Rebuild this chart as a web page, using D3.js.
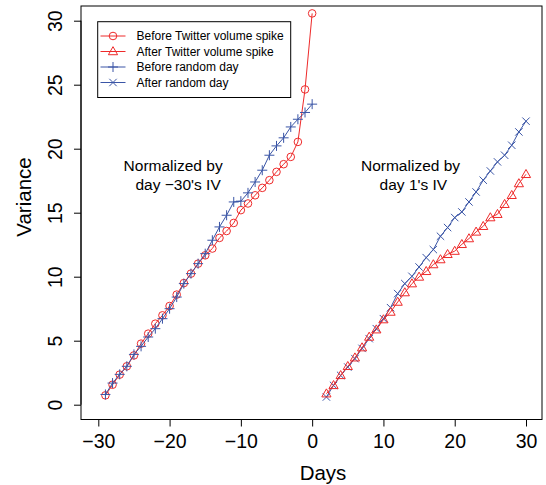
<!DOCTYPE html>
<html>
<head>
<meta charset="utf-8">
<script src="https://cdn.jsdelivr.net/npm/d3@7"></script>
<style>
  html, body { margin: 0; padding: 0; background: #fff; }
  svg { display: block; font-family: "Liberation Sans", Arial, Helvetica, sans-serif; }
</style>
</head>
<body>
<svg id="chart" width="546" height="485"></svg>
<script>
// ---- Data ----
const daysBefore = [-29,-28,-27,-26,-25,-24,-23,-22,-21,-20,-19,-18,-17,-16,-15,-14,-13,-12,-11,-10,-9,-8,-7,-6,-5,-4,-3,-2,-1,0];
const daysAfter = [2,3,4,5,6,7,8,9,10,11,12,13,14,15,16,17,18,19,20,21,22,23,24,25,26,27,28,29,30];

const beforeSpike = [0.73,1.56,2.35,3.0,3.85,4.77,5.55,6.33,6.98,7.71,8.6,9.5,10.24,11.02,11.67,12.2,13.03,13.57,14.2,15.2,15.72,16.36,16.94,17.54,18.19,18.79,19.36,20.53,24.63,30.57];
const beforeRandom = [0.8,1.69,2.37,3.0,3.93,4.56,5.29,5.94,6.72,7.5,8.41,9.46,10.24,11.02,11.8,12.85,13.89,14.8,15.84,15.9,16.55,17.4,18.32,19.49,20.22,20.85,21.7,22.3,22.83,23.48];
const afterSpike = [0.86,1.51,2.29,3.0,3.67,4.46,5.29,5.86,6.65,7.24,8.02,8.76,9.46,9.98,10.42,10.95,11.34,11.75,12.0,12.53,12.98,13.5,13.94,14.62,14.88,15.66,16.36,17.28,18.0];
const afterRandom = [0.6,1.51,2.29,2.94,3.6,4.4,5.16,5.94,6.72,7.58,8.68,9.46,10.03,10.76,11.49,12.12,13.16,13.84,14.62,15.06,15.84,16.62,17.54,18.26,18.97,19.49,20.27,21.31,22.15];

const xTicks = [-30,-20,-10,0,10,20,30];
const yTicks = [0,5,10,15,20,25,30];

const legendLabels = ["Before Twitter volume spike","After Twitter volume spike","Before random day","After random day"];
const annotations = [
  {lines:["Normalized by","day \u221230's IV"], x:-19.5, dx:[0,0.7]},
  {lines:["Normalized by","day 1's IV"], x:13.8, dx:[0,0.4]}
];

// ---- Layout ----
const RED = "#ee2a2a", BLUE = "#3a55a6";
const box = {l:81, r:542, t:6, b:419.5};
const x = d3.scaleLinear().domain([-30,30]).range([98.3,526]);
const y = d3.scaleLinear().domain([0,30]).range([404.7,20.7]);

const svg = d3.select("#chart");

// plot box
svg.append("rect").attr("x",box.l).attr("y",box.t)
  .attr("width",box.r-box.l).attr("height",box.b-box.t)
  .attr("fill","none").attr("stroke","#000").attr("stroke-width",1);

// x axis
const xAxis = svg.append("g").attr("transform",`translate(0,${box.b})`)
  .call(d3.axisBottom(x).tickValues(xTicks).tickSize(7).tickPadding(8)
    .tickFormat(d => d < 0 ? "\u2212" + Math.abs(d) : String(d)));
xAxis.select(".domain").attr("d",`M${x(-30)},0H${x(30)}`).attr("stroke","#000");
xAxis.selectAll(".tick line").attr("stroke","#000");
xAxis.selectAll("text").attr("font-size",19.5).attr("fill","#000")
  .attr("font-family","'Liberation Sans', Arial, sans-serif");

// y axis
const yAxis = svg.append("g").attr("transform",`translate(${box.l},0)`)
  .call(d3.axisLeft(y).tickValues(yTicks).tickSize(7).tickFormat(d3.format("d")));
yAxis.select(".domain").attr("d",`M0,${y(0)}V${y(30)}`).attr("stroke","#000");
yAxis.selectAll(".tick line").attr("stroke","#000");
yAxis.selectAll("text")
  .attr("x",0).attr("y",0).attr("dy",null)
  .attr("text-anchor","middle")
  .attr("transform","translate(-19,0) rotate(-90)")
  .attr("font-size",19.5).attr("fill","#000")
  .attr("font-family","'Liberation Sans', Arial, sans-serif");

// axis titles
svg.append("text").attr("x",323).attr("y",479.5).attr("text-anchor","middle")
  .attr("font-size",20.5).text("Days");
svg.append("text").attr("transform","translate(31,197) rotate(-90)")
  .attr("text-anchor","middle").attr("font-size",20.5).text("Variance");

// ---- Series ----
const series = [
  {days:daysBefore, vals:beforeSpike, color:RED, shape:"circle"},
  {days:daysBefore, vals:beforeRandom, color:BLUE, shape:"plus"},
  {days:daysAfter, vals:afterRandom, color:BLUE, shape:"cross"},
  {days:daysAfter, vals:afterSpike, color:RED, shape:"triangle"}
];

function marker(g, shape, cx, cy, color) {
  if (shape === "circle") {
    g.append("circle").attr("cx",cx).attr("cy",cy).attr("r",3.8)
      .attr("fill","none").attr("stroke",color).attr("stroke-width",1);
  } else if (shape === "triangle") {
    const s = 4.6;
    g.append("path")
      .attr("d",`M${cx},${cy-s*1.05}L${cx+s},${cy+s*0.7}L${cx-s},${cy+s*0.7}Z`)
      .attr("fill","none").attr("stroke",color).attr("stroke-width",1);
  } else if (shape === "plus") {
    const s = 5;
    g.append("path").attr("d",`M${cx-s},${cy}H${cx+s}M${cx},${cy-s}V${cy+s}`)
      .attr("stroke",color).attr("stroke-width",1);
  } else if (shape === "cross") {
    const s = 3.7;
    g.append("path").attr("d",`M${cx-s},${cy-s}L${cx+s},${cy+s}M${cx-s},${cy+s}L${cx+s},${cy-s}`)
      .attr("stroke",color).attr("stroke-width",1);
  }
}

const line = d3.line().x(d => x(d[0])).y(d => y(d[1]));
series.forEach(s => {
  const pts = s.days.map((d,i) => [d, s.vals[i]]);
  const g = svg.append("g");
  g.append("path").attr("d",line(pts)).attr("fill","none")
    .attr("stroke",s.color).attr("stroke-width",1);
  pts.forEach(p => marker(g, s.shape, x(p[0]), y(p[1]), s.color));
});

// ---- Annotations ----
annotations.forEach(a => {
  a.lines.forEach((t,i) => {
    svg.append("text").attr("x",x(a.x + a.dx[i])).attr("y",171 + i*19)
      .attr("text-anchor","middle").attr("font-size",15.5).attr("fill","#000").text(t);
  });
});

// ---- Legend ----
const lg = svg.append("g");
lg.append("rect").attr("x",97.7).attr("y",21.7).attr("width",193).attr("height",75.8)
  .attr("fill","#fff").attr("stroke","#000").attr("stroke-width",1);
const legendItems = [
  {color:RED, shape:"circle"},
  {color:RED, shape:"triangle"},
  {color:BLUE, shape:"plus"},
  {color:BLUE, shape:"cross"}
];
legendItems.forEach((it,i) => {
  const cy = 36 + i*15.5;
  lg.append("line").attr("x1",100.5).attr("x2",125.5).attr("y1",cy).attr("y2",cy)
    .attr("stroke",it.color).attr("stroke-width",1);
  marker(lg, it.shape, 113, cy, it.color);
  lg.append("text").attr("x",136.5).attr("y",cy+4.3).attr("font-size",12)
    .attr("fill","#000").text(legendLabels[i]);
});
</script>
</body>
</html>
